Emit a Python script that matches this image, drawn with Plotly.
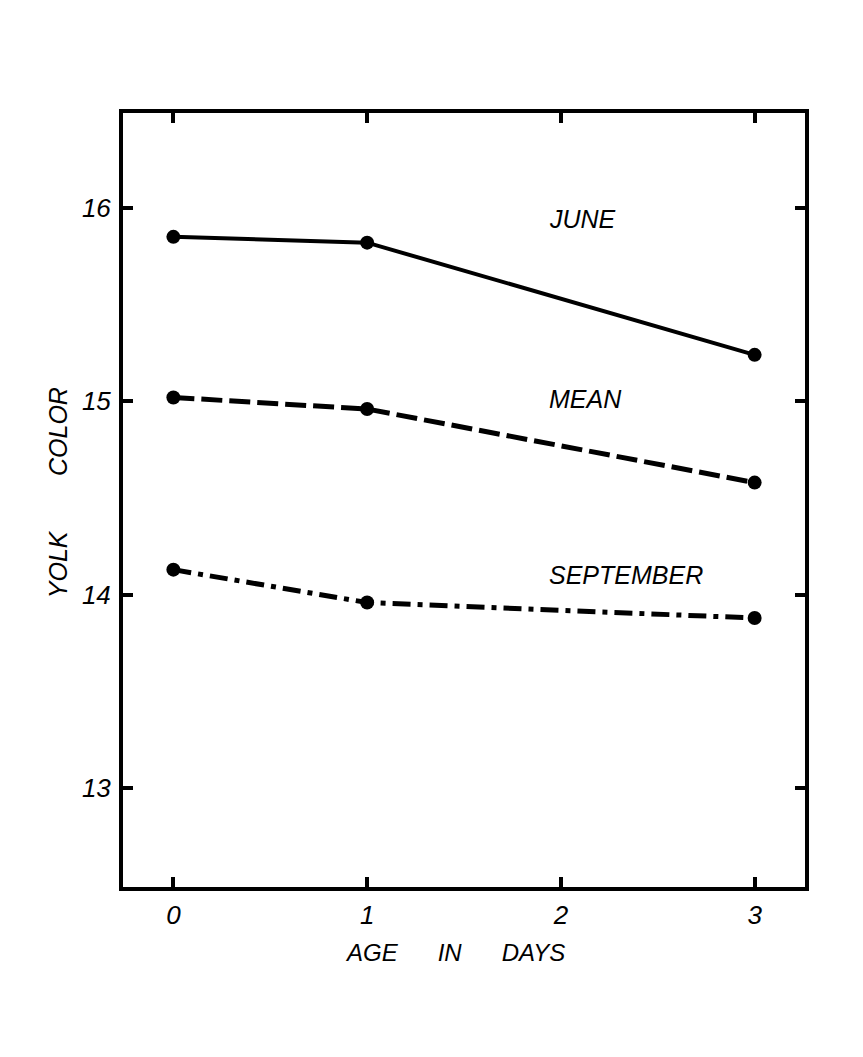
import plotly.graph_objects as go

# Age of eggs (days) and mean yolk colour scores
age_days = [0, 1, 3]
june = [15.85, 15.82, 15.24]
mean = [15.02, 14.96, 14.58]
september = [14.13, 13.96, 13.88]

series_names = ["JUNE", "MEAN", "SEPTEMBER"]
label_y = [15.94, 15.01, 14.10]
label_x = 1.93

x_ticks = [0, 1, 2, 3]
y_ticks = [13, 14, 15, 16]

FONT = "Liberation Sans"

fig = go.Figure()

styles = [
    dict(dash="solid", width=4),
    dict(dash="21px,7px", width=5),
    dict(dash="18px,7px,5px,7px", width=5),
]
for vals, st in zip([june, mean, september], styles):
    fig.add_trace(go.Scatter(
        x=age_days, y=vals, mode="lines+markers",
        line=dict(color="black", **st),
        marker=dict(color="black", size=14),
        showlegend=False,
    ))

for name, yv in zip(series_names, label_y):
    fig.add_annotation(
        x=label_x, y=yv, text=name, showarrow=False,
        xanchor="left", yanchor="middle",
        font=dict(family=FONT, size=25, color="black", style="italic"),
    )

axis_common = dict(
    showline=True, linecolor="black", linewidth=4, mirror="ticks",
    ticks="inside", ticklen=10, tickwidth=4, tickcolor="black",
    showgrid=False, zeroline=False,
    tickfont=dict(family=FONT, size=26, color="black", style="italic"),
)

fig.update_xaxes(range=[-0.26, 3.26], tickvals=x_ticks,
                 ticklabelstandoff=2, **axis_common)
fig.update_yaxes(range=[12.49, 16.49], tickvals=y_ticks,
                 ticklabelstandoff=3, **axis_common)

fig.add_annotation(
    x=0.487, y=-0.084, xref="paper", yref="paper",
    text="AGE" + "\u00a0" * 6 + "IN" + "\u00a0" * 6 + "DAYS",
    showarrow=False, xanchor="center", yanchor="middle",
    font=dict(family=FONT, size=24, color="black", style="italic"),
)
fig.add_annotation(
    x=-0.095, y=0.509, xref="paper", yref="paper",
    text="YOLK" + "\u00a0" * 8 + "COLOR",
    textangle=-90, showarrow=False, xanchor="center", yanchor="middle",
    font=dict(family=FONT, size=25, color="black", style="italic"),
)

fig.update_layout(
    width=863, height=1057,
    margin=dict(l=123, r=58, t=113, b=170),
    paper_bgcolor="white", plot_bgcolor="white",
)

fig.write_html("out.html")
